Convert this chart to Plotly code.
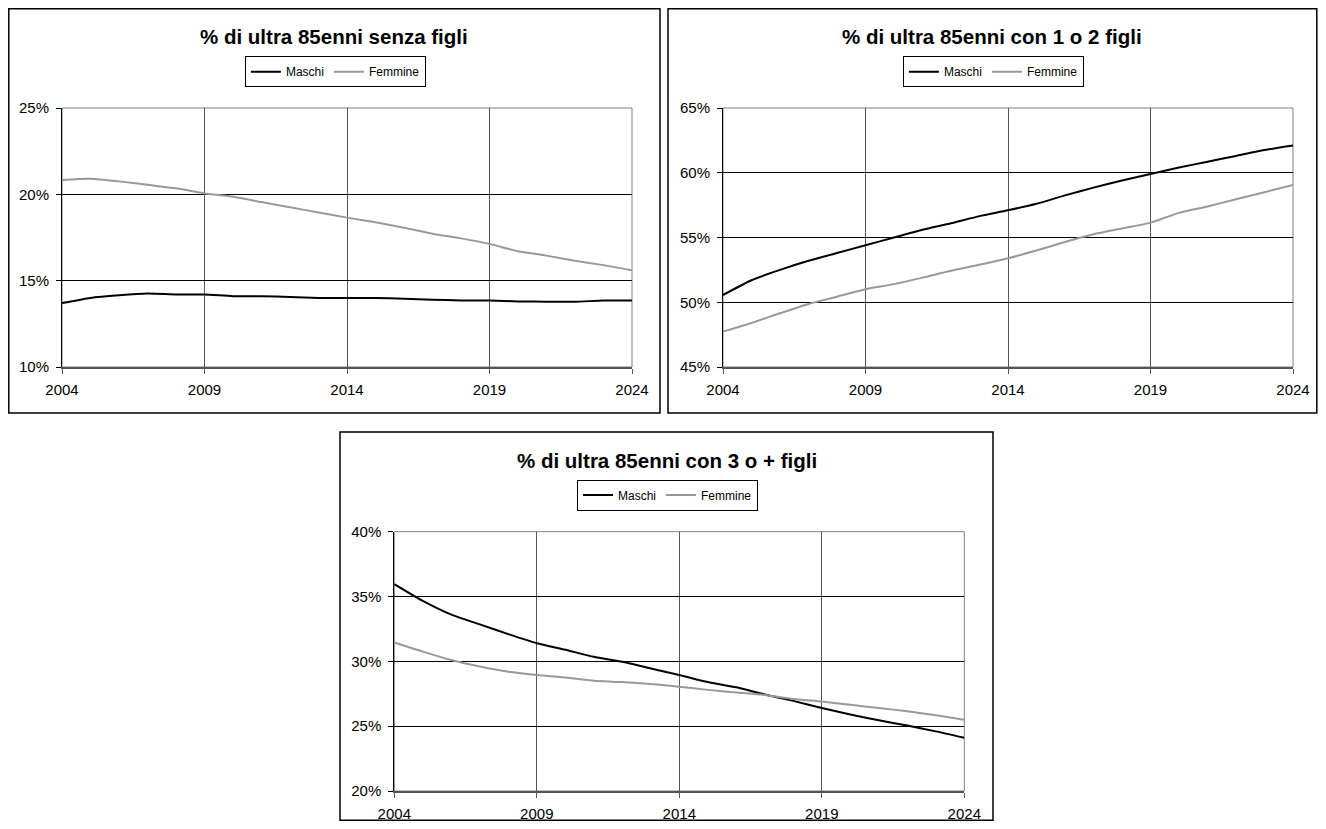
import plotly.graph_objects as go

# page is rendered with an 8px body margin, so the figure is 16px smaller than the window
OFF = 8
W, H = 1326 - 2 * OFF, 829 - 2 * OFF

years = [2004, 2005, 2006, 2007, 2008, 2009, 2010, 2011, 2012, 2013, 2014,
         2015, 2016, 2017, 2018, 2019, 2020, 2021, 2022, 2023, 2024]
x_ticks = [2004, 2009, 2014, 2019, 2024]

titles = ["% di ultra 85enni senza figli",
          "% di ultra 85enni con 1 o 2 figli",
          "% di ultra 85enni con 3 o + figli"]
series_names = ["Maschi", "Femmine"]

senza_m = [13.7, 14.0, 14.15, 14.25, 14.2, 14.2, 14.1, 14.1, 14.05, 14.0, 14.0,
           14.0, 13.95, 13.9, 13.85, 13.85, 13.8, 13.78, 13.78, 13.85, 13.85]
senza_f = [20.83, 20.9, 20.75, 20.55, 20.35, 20.05, 19.86, 19.55, 19.25, 18.95, 18.65,
           18.38, 18.07, 17.72, 17.45, 17.13, 16.7, 16.45, 16.15, 15.9, 15.6]

uno_due_m = [50.56, 51.7, 52.5, 53.2, 53.8, 54.4, 55.0, 55.6, 56.1, 56.65, 57.1,
             57.6, 58.25, 58.85, 59.4, 59.9, 60.4, 60.85, 61.3, 61.75, 62.1]
uno_due_f = [47.73, 48.4, 49.15, 49.87, 50.43, 51.0, 51.4, 51.9, 52.44, 52.9, 53.4,
             54.0, 54.65, 55.25, 55.7, 56.15, 56.9, 57.4, 57.95, 58.5, 59.05]

tre_m = [35.95, 34.66, 33.6, 32.85, 32.1, 31.4, 30.9, 30.35, 29.97, 29.45, 28.95,
         28.4, 28.0, 27.45, 26.95, 26.4, 25.9, 25.45, 25.05, 24.6, 24.1]
tre_f = [31.45, 30.75, 30.1, 29.6, 29.2, 28.95, 28.75, 28.5, 28.4, 28.25, 28.05,
         27.8, 27.6, 27.4, 27.1, 26.9, 26.65, 26.4, 26.15, 25.85, 25.5]

y_ranges = [[10, 25], [45, 65], [20, 40]]
y_ticks = [[10, 15, 20, 25], [45, 50, 55, 60, 65], [20, 25, 30, 35, 40]]

data = [(senza_m, senza_f), (uno_due_m, uno_due_f), (tre_m, tre_f)]

FONT = "Liberation Sans, Arial, sans-serif"
colors = ["#000000", "#999999"]


def px(x):
    return (x - OFF) / W


def py(y):
    return 1 - (y - OFF) / H


# plot areas in page pixels (left, top, right, bottom)
plot_px = [(62, 108, 632, 367), (723, 108, 1293, 367), (394.3, 531.7, 964.3, 791)]
box_px = [(8.8, 8.8, 660, 413), (668, 8.8, 1316.8, 413), (340, 432, 993, 820.2)]

fig = go.Figure()
layout = dict(width=W, height=H, margin=dict(l=0, r=0, t=0, b=0, autoexpand=False),
              paper_bgcolor="white", plot_bgcolor="white",
              font=dict(family=FONT, size=15, color="black"),
              shapes=[], annotations=[])

for i in range(3):
    n = "" if i == 0 else str(i + 1)
    xa, ya = "x" + n, "y" + n
    leg = "legend" + n
    m_vals, f_vals = data[i]
    for vals, name, col in zip((m_vals, f_vals), series_names, colors):
        fig.add_trace(go.Scatter(x=years, y=vals, name=name, mode="lines",
                                 line=dict(color=col, width=2, shape="spline", smoothing=0.6),
                                 xaxis=xa, yaxis=ya, legend=leg, hoverinfo="skip"))
    l, t, r, b = plot_px[i]
    layout["xaxis" + n] = dict(domain=[px(l), px(r)], anchor=ya, range=[2004, 2024],
                               tickmode="array", tickvals=x_ticks,
                               ticktext=[str(v) for v in x_ticks],
                               showgrid=True, gridcolor="#555555", gridwidth=1,
                               showline=True, linecolor="#555555", linewidth=2,
                               ticks="outside", ticklen=5, tickcolor="#555555",
                               ticklabelstandoff=3, zeroline=False, automargin=False,
                               tickfont=dict(size=15, family=FONT, color="black"))
    layout["yaxis" + n] = dict(domain=[py(b), py(t)], anchor=xa, range=y_ranges[i],
                               tickmode="array", tickvals=y_ticks[i],
                               ticktext=[f"{v}%" for v in y_ticks[i]],
                               showgrid=True, gridcolor="#000000", gridwidth=1,
                               showline=True, linecolor="#000000", linewidth=1,
                               ticks="outside", ticklen=5, tickcolor="#000000",
                               ticklabelstandoff=4, zeroline=False, automargin=False,
                               tickfont=dict(size=15, family=FONT, color="black"))
    # plot area border
    layout["shapes"].append(dict(type="rect", xref=xa + " domain", yref=ya + " domain",
                                 x0=0, x1=1, y0=0, y1=1,
                                 line=dict(color="#808080", width=1), layer="below"))
    bl, bt, br, bb = box_px[i]
    layout["shapes"].append(dict(type="rect", xref="paper", yref="paper",
                                 x0=px(bl), x1=px(br), y0=py(bb), y1=py(bt),
                                 line=dict(color="black", width=1.5)))
    cx = (bl + br) / 2
    layout["annotations"].append(dict(text="<b>" + titles[i] + "</b>", xref="paper", yref="paper",
                                      x=px(cx), y=py(bt + 28), xanchor="center", yanchor="middle",
                                      showarrow=False, font=dict(size=20.5, family=FONT, color="black")))
    layout[leg] = dict(orientation="h", x=px(cx + 1), y=py(bt + 63), xanchor="center",
                       yanchor="middle", bordercolor="black", borderwidth=1,
                       bgcolor="white", font=dict(size=12, family=FONT, color="black"),
                       itemwidth=30, tracegroupgap=0, itemclick=False)

fig.update_layout(**layout)
fig.write_html("out.html")
